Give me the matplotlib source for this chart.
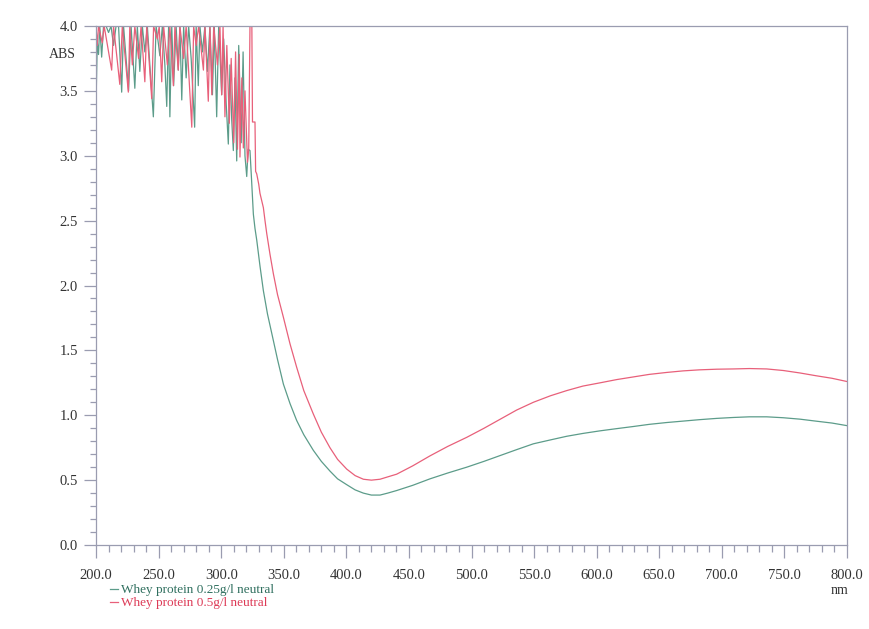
import numpy as np
import matplotlib.pyplot as plt
from matplotlib.ticker import MultipleLocator, FormatStrFormatter

plt.rcParams['font.family'] = ['Liberation Serif', 'DejaVu Serif']

# wavelength (nm) and absorbance
green_nm = [200, 201, 202, 203, 204.5, 206, 208, 210, 212, 214, 216, 218, 220.5, 222,
            224, 226, 228, 231, 233, 235, 237, 239, 241, 243, 245.8, 248, 250, 251, 253,
            255, 256.5, 258, 259, 260.5, 262, 264, 265.7, 267, 268.5, 270, 272, 274, 276,
            278.8, 280, 281.7, 283, 285, 287, 289, 291, 293, 294.5, 296.4, 298, 300.4,
            302, 304, 305.7, 307, 308.4, 309.7, 311, 312.4, 314, 316, 317.5, 319, 320.4,
            321.5, 323, 324.4, 325.7, 327, 328.4, 331, 333.7, 337, 341.7, 345, 349.7,
            355, 360.3, 366, 373.6, 380, 386.9, 393, 400.3, 407, 413.6, 420, 426.9, 433,
            440.2, 453, 466.8, 481, 496.2, 510, 523, 536, 549.4, 563, 576, 589, 602.7,
            616, 629, 642, 655.9, 669, 682, 696, 709.2, 722, 735.8, 749, 762.4, 775,
            788, 800]
green_abs = [3.40, 3.88, 3.78, 4.0, 3.76, 4.0, 4.0, 3.95, 4.0, 3.85, 4.0, 4.0, 3.49, 4.0,
             3.75, 3.50, 4.0, 3.52, 4.0, 3.65, 4.0, 3.80, 4.0, 3.70, 3.30, 4.0, 3.85, 3.77,
             4.0, 3.70, 3.38, 4.0, 3.30, 4.0, 3.54, 4.0, 3.66, 4.0, 3.43, 4.0, 3.60, 4.0,
             3.75, 3.22, 4.0, 3.54, 4.0, 3.80, 4.0, 3.65, 4.0, 3.47, 4.0, 3.30, 4.0, 3.47,
             3.90, 3.40, 3.09, 3.70, 3.28, 3.04, 3.60, 2.96, 3.85, 3.10, 3.80, 3.00, 2.84,
             3.05, 3.04, 2.79, 2.55, 2.44, 2.35, 2.15, 1.96, 1.78, 1.575, 1.43, 1.24,
             1.09, 0.96, 0.85, 0.73, 0.645, 0.57, 0.51, 0.465, 0.425, 0.40, 0.385, 0.385,
             0.40, 0.42, 0.46, 0.51, 0.555, 0.60, 0.645, 0.69, 0.735, 0.78, 0.81, 0.838,
             0.86, 0.88, 0.897, 0.913, 0.93, 0.944, 0.955, 0.966, 0.976, 0.983, 0.988,
             0.988, 0.981, 0.97, 0.955, 0.94, 0.92]

red_nm = [200, 201, 202, 205, 206.5, 212.5, 214, 219, 221, 225.8, 227, 229, 231, 234, 236,
          239, 240.5, 244.5, 246, 249, 250.5, 252.5, 254, 257, 259, 261.8, 263, 265.7, 267,
          270, 272, 276.5, 278, 280, 282, 285.8, 287, 289.7, 291, 292.5, 294, 297, 299,
          300.4, 301.5, 303, 304.5, 306.5, 308, 310, 311.5, 313, 314.5, 315, 316.5, 317.7,
          319, 321, 322, 323, 324.5, 325, 327, 327.5, 328.4, 330, 331, 333.7, 335, 336.4,
          339, 341.7, 345, 349.7, 355, 360.3, 366, 373.6, 380, 386.9, 393, 400.3, 407,
          413.6, 420, 426.9, 433, 440.2, 453, 466.8, 481, 496.2, 510, 523, 536, 549.4,
          563, 576, 589, 602.7, 616, 629, 642, 655.9, 669, 682, 696, 709.2, 722, 735.8,
          749, 762.4, 775, 788, 800]
red_abs = [4.0, 3.85, 4.0, 3.87, 4.0, 3.66, 4.0, 3.55, 4.0, 3.49, 4.0, 3.70, 4.0, 3.75,
           4.0, 3.57, 4.0, 3.44, 4.0, 3.90, 4.0, 3.57, 4.0, 3.70, 4.0, 3.54, 4.0, 3.66,
           4.0, 3.75, 4.0, 3.22, 4.0, 3.85, 4.0, 3.66, 4.0, 3.42, 4.0, 3.47, 4.0, 3.70,
           4.0, 3.47, 4.0, 3.30, 3.85, 3.25, 3.75, 3.10, 3.80, 3.05, 3.78, 2.99, 3.60,
           3.06, 3.50, 2.95, 3.05, 4.0, 4.0, 3.26, 3.26, 2.88, 2.86, 2.78, 2.71, 2.60,
           2.50, 2.40, 2.24, 2.09, 1.93, 1.755, 1.55, 1.37, 1.19, 1.01, 0.87, 0.75, 0.66,
           0.585, 0.535, 0.507, 0.50, 0.507, 0.525, 0.546, 0.61, 0.687, 0.76, 0.83, 0.90,
           0.97, 1.04, 1.10, 1.15, 1.19, 1.225, 1.25, 1.275, 1.295, 1.315, 1.33, 1.342,
           1.35, 1.355, 1.357, 1.36, 1.357, 1.345, 1.326, 1.305, 1.285, 1.26]

labels = ['Whey protein 0.25g/l neutral', 'Whey protein 0.5g/l neutral']
line_colors = ['#5c9c8a', '#e8607a']
text_colors = ['#2f6f5e', '#dd3a56']
axis_color = '#9a9cb0'

fig = plt.figure(figsize=(8.69, 6.29), dpi=100)
ax = fig.add_axes([0.1105, 0.1335, 0.8642, 0.8252])

ax.plot(green_nm, green_abs, color=line_colors[0], lw=0.9, label=labels[0])
ax.plot(red_nm, red_abs, color=line_colors[1], lw=0.9, label=labels[1])

ax.set_xlim(200, 800)
ax.set_ylim(0, 4)
ax.xaxis.set_major_locator(MultipleLocator(50))
ax.xaxis.set_minor_locator(MultipleLocator(10))
ax.yaxis.set_major_locator(MultipleLocator(0.5))
ax.yaxis.set_minor_locator(MultipleLocator(0.1))
ax.xaxis.set_major_formatter(FormatStrFormatter('%.1f'))
ax.yaxis.set_major_formatter(FormatStrFormatter('%.1f'))

for s in ax.spines.values():
    s.set_color(axis_color)
    s.set_linewidth(0.9)
ax.tick_params(which='both', direction='out', color=axis_color, width=0.9,
               labelsize=10.5, labelcolor='#333333')
ax.tick_params(axis='x', which='major', length=9.4, pad=8)
ax.tick_params(axis='x', which='minor', length=5)
ax.tick_params(axis='y', which='major', length=8.6, pad=4.3)
ax.tick_params(axis='y', which='minor', length=4.3)

fig.text(0.0713, 0.9126, 'ABS', ha='center', va='center', fontsize=10, color='#333333')
fig.text(0.9655, 0.062, 'nm', ha='center', va='center', fontsize=10, color='#333333')

leg = ax.legend(loc='upper left', bbox_to_anchor=(0.1266, 0.0715),
                bbox_transform=fig.transFigure, frameon=False, fontsize=9.5,
                handlelength=0.6, handletextpad=0.25, labelspacing=0.05,
                borderpad=0, borderaxespad=0)
for t, c in zip(leg.get_texts(), text_colors):
    t.set_color(c)

fig.savefig('out.png', dpi=100)
